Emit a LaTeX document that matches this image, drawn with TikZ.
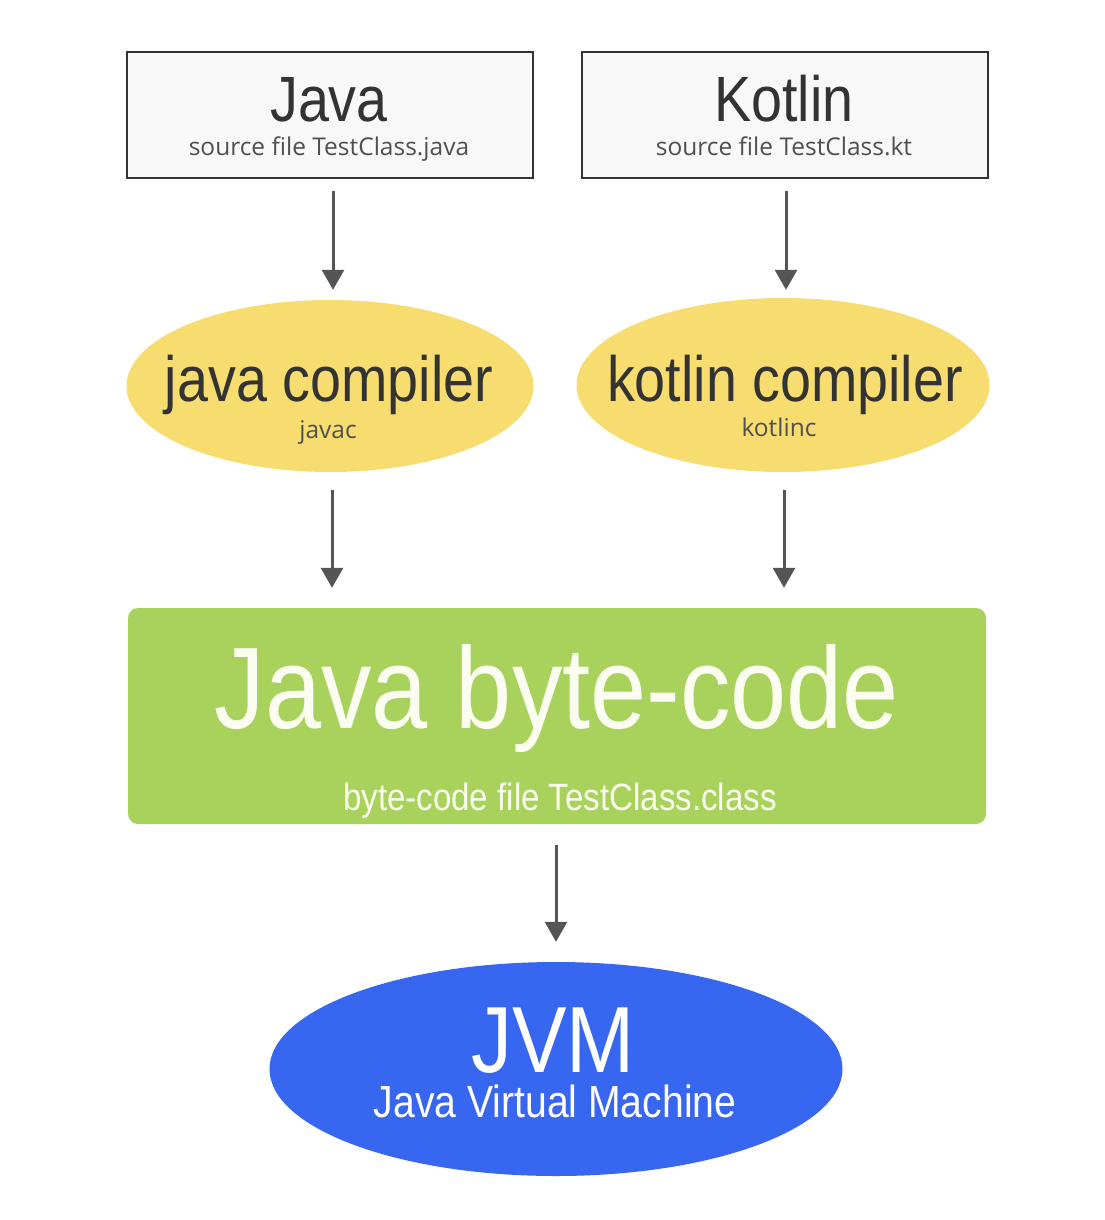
\documentclass[tikz,border=0pt]{standalone}
\usepackage{fontspec}
\usetikzlibrary{arrows.meta,shapes.geometric,calc}
\newfontfamily\condfont[FakeStretch=0.87]{Liberation Sans}
\newfontfamily\subfont{Open Sans}
\definecolor{boxfill}{HTML}{F8F8F8}
\definecolor{boxline}{HTML}{333333}
\definecolor{darktext}{HTML}{333333}
\definecolor{subtext}{HTML}{505050}
\definecolor{yel}{HTML}{F7DC6F}
\definecolor{grn}{HTML}{A8D25C}
\definecolor{blu}{HTML}{3766F0}
\definecolor{lighttext}{HTML}{FAFDF0}
\definecolor{arrcol}{HTML}{555555}
\tikzset{
  x=1pt,y=-1pt,
  srcbox/.style={draw=boxline,line width=2pt,fill=boxfill,minimum width=406pt,minimum height=126pt,inner sep=0pt},
  compell/.style={ellipse,fill=yel,inner sep=0pt},
  arr/.style={draw=arrcol,line width=3pt,-{Triangle[width=22pt,length=20pt]}},
  bigtxt/.style={anchor=base,inner sep=0pt,text=darktext,font=\condfont\fontsize{64}{64}\selectfont},
  smalltxt/.style={anchor=base,inner sep=0pt,text=subtext,font=\subfont\fontsize{24.5}{24.5}\selectfont},
  lighttxt/.style={anchor=base,inner sep=0pt,text=lighttext},
}
\begin{document}
\begin{tikzpicture}
\useasboundingbox (0,0) rectangle (1104,1220);
\fill[white] (0,0) rectangle (1104,1220);
% source boxes
\node[srcbox] (java) at (330,115) {};
\node[srcbox] (kotlin) at (785,115) {};
\node[bigtxt] (javat) at (329,122) {Java};
\node[smalltxt] (javas) at (329,155) {source file TestClass.java};
\node[bigtxt] (kotlint) at (784,122) {Kotlin};
\node[smalltxt] (kotlins) at (784,155) {source file TestClass.kt};
% compilers
\node[compell,minimum width=407pt,minimum height=172pt] (jc) at (330,386) {};
\node[compell,minimum width=413pt,minimum height=174pt] (kc) at (783,385) {};
\node[bigtxt] (jct) at (329,401) {java compiler};
\node[smalltxt] (jcs) at (328,438) {javac};
\node[bigtxt] (kct) at (785,401) {kotlin compiler};
\node[smalltxt] (kcs) at (779,436) {kotlinc};
% byte code
\node[fill=grn,rounded corners=10pt,minimum width=858pt,minimum height=216pt,inner sep=0pt] (bc) at (557,716) {};
\node[lighttxt,font=\condfont\fontsize{116}{116}\selectfont] (bct) at (557,728) {Java byte-code};
\node[lighttxt,font=\condfont\fontsize{38}{38}\selectfont] (bcs) at (560,810) {byte-code file TestClass.class};
% JVM
\node[ellipse,fill=blu,minimum width=573pt,minimum height=214pt,inner sep=0pt] (jvm) at (556,1069) {};
\node[anchor=base,inner sep=0pt,text=white,font=\condfont\fontsize{94}{94}\selectfont] (jvmt) at (553,1072) {JVM};
\node[anchor=base,inner sep=0pt,text=white,font=\condfont\fontsize{45}{45}\selectfont] (jvms) at (555,1117) {Java Virtual Machine};
% arrows
\draw[arr,shorten <=12pt,shorten >=10pt] ($(java.south)+(3,0)$) -- ($(jc.north)+(3,0)$);
\draw[arr,shorten <=12pt,shorten >=8pt] ($(kotlin.south)+(1,0)$) -- ($(kc.north)+(3,0)$);
\draw[arr,shorten <=18pt,shorten >=20pt] ($(jc.south)+(2,0)$) -- ($(bc.north)+(-225,0)$);
\draw[arr,shorten <=18pt,shorten >=20pt] ($(kc.south)+(1,0)$) -- ($(bc.north)+(227,0)$);
\draw[arr,shorten <=21pt,shorten >=20pt] ($(bc.south)+(-1,0)$) -- (jvm.north);
\end{tikzpicture}
\end{document}
